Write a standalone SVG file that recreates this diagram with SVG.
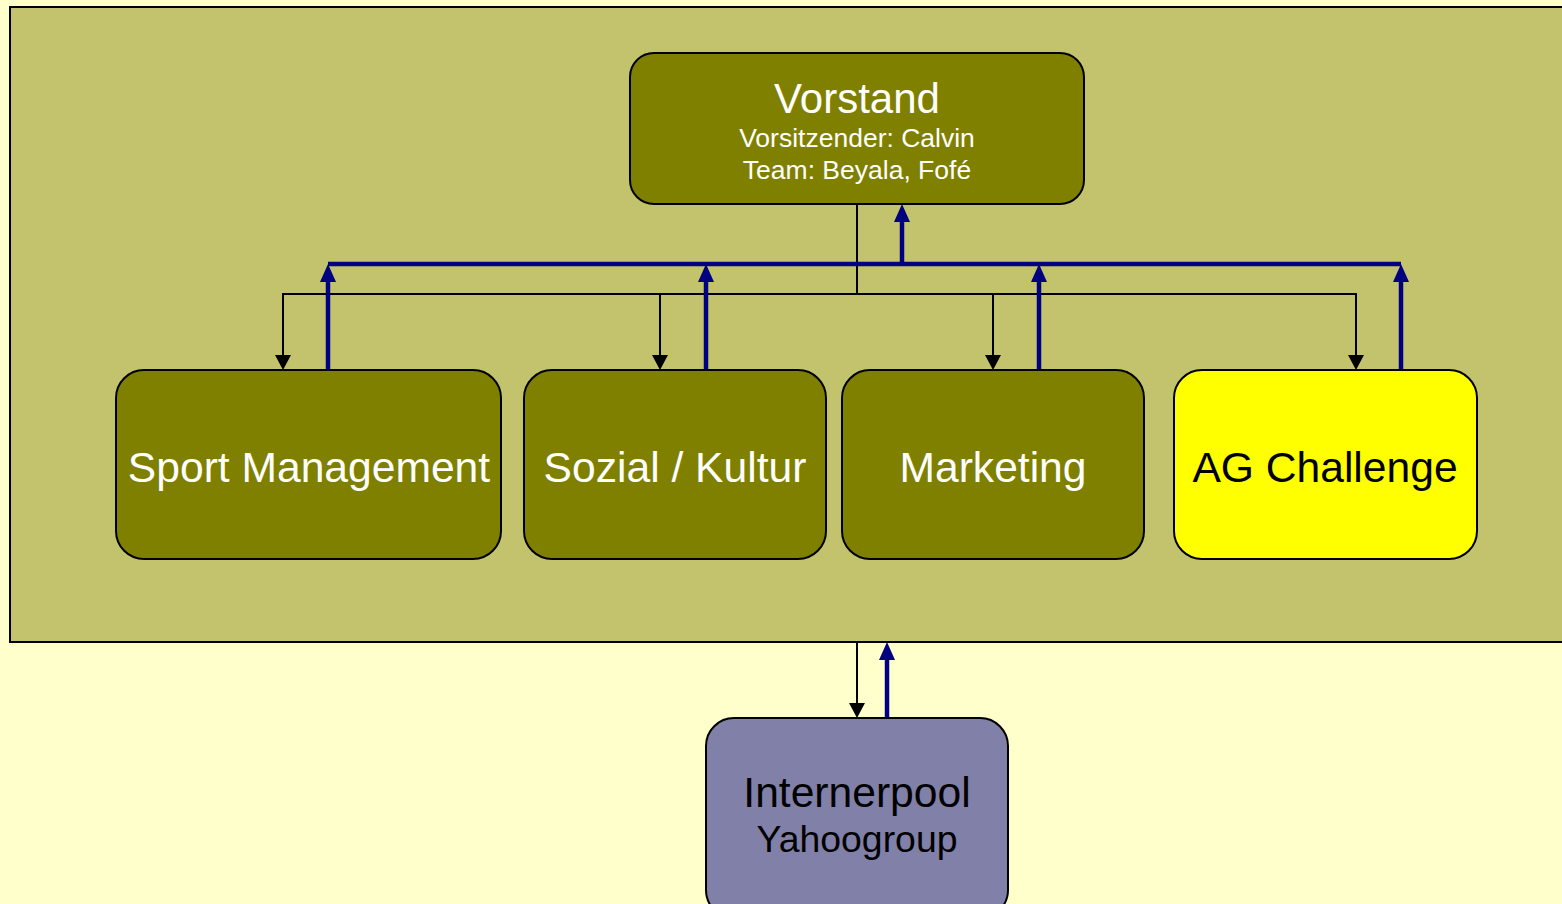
<svg xmlns="http://www.w3.org/2000/svg" width="1562" height="904" viewBox="0 0 1562 904">
<style>
.box{stroke:#000;stroke-width:2}
.olive{fill:#808000}
.t{font-family:"Liberation Sans",Arial,sans-serif;text-anchor:middle}
.w{fill:#fff}
.k{fill:#000}
.bl{stroke:#000;stroke-width:2;fill:none}
.bu{stroke:#000080;stroke-width:4.5;fill:none}
.hk{fill:#000}
.hb{fill:#000080}
</style>
<rect x="0" y="0" width="1562" height="904" fill="#FFFFCC"/>
<rect id="panel" x="10" y="7" width="1560" height="635" fill="#C3C36E" stroke="#000" stroke-width="2"/>
<g id="connectors">
<path class="bl" d="M857,204 V294"/>
<path class="bl" d="M283,358 V294 H1356 V358"/>
<path class="bl" d="M660,294 V358"/>
<path class="bl" d="M993,294 V358"/>
<path class="hk" d="M275,355 L291,355 L283,370 Z M652,355 L668,355 L660,370 Z M985,355 L1001,355 L993,370 Z M1348,355 L1364,355 L1356,370 Z"/>
<path class="bu" d="M328,264 H1401"/>
<path class="bu" d="M328,370 V280"/>
<path class="bu" d="M706,370 V280"/>
<path class="bu" d="M1039,370 V280"/>
<path class="bu" d="M1401,370 V280"/>
<path class="bu" d="M902,264 V220"/>
<path class="hb" d="M328,264 L336,282 L320,282 Z M706,264 L714,282 L698,282 Z M1039,264 L1047,282 L1031,282 Z M1401,264 L1409,282 L1393,282 Z M902,204 L910,222 L894,222 Z M887,642 L895,660 L879,660 Z"/>
<path class="bl" d="M857,642 V706"/>
<path class="hk" d="M849,703 L865,703 L857,718 Z"/>
<path class="bu" d="M887,718 V658"/>
</g>
<g id="vorstand">
<rect class="box olive" x="630" y="53" width="454" height="151" rx="24"/>
<text class="t w" x="857" y="113" font-size="42">Vorstand</text>
<text class="t w" x="857" y="147" font-size="26.5">Vorsitzender: Calvin</text>
<text class="t w" x="857" y="179" font-size="26.5">Team: Beyala, Fofé</text>
</g>
<g id="sport">
<rect class="box olive" x="116" y="370" width="385" height="189" rx="28"/>
<text class="t w" x="309" y="482" font-size="42.6">Sport Management</text>
</g>
<g id="sozial">
<rect class="box olive" x="524" y="370" width="302" height="189" rx="28"/>
<text class="t w" x="675" y="482" font-size="42.6">Sozial / Kultur</text>
</g>
<g id="marketing">
<rect class="box olive" x="842" y="370" width="302" height="189" rx="28"/>
<text class="t w" x="993" y="482" font-size="42.6">Marketing</text>
</g>
<g id="ag">
<rect class="box" fill="#FFFF00" x="1174" y="370" width="303" height="189" rx="28"/>
<text class="t k" x="1325" y="482" font-size="42.6">AG Challenge</text>
</g>
<g id="internerpool">
<rect class="box" fill="#8080A8" x="706" y="718" width="302" height="200" rx="28"/>
<text class="t k" x="857" y="807" font-size="42.6">Internerpool</text>
<text class="t k" x="857" y="852" font-size="37.4">Yahoogroup</text>
</g>
</svg>
